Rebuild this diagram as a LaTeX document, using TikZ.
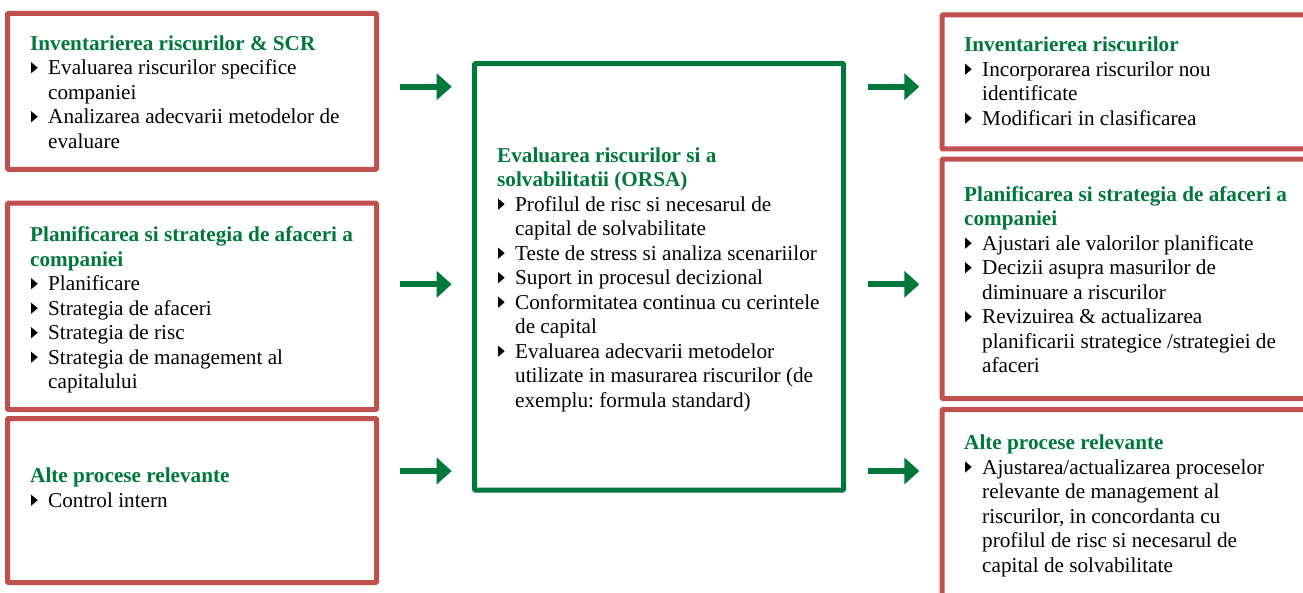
\documentclass[tikz,border=0pt]{standalone}
\usepackage{fontspec}
\setmainfont{Liberation Serif}
\usetikzlibrary{arrows.meta}
\definecolor{boxRed}{HTML}{C0504D}
\definecolor{orsaGreen}{HTML}{00783C}
\frenchspacing
\newcommand{\tri}{\tikz[baseline=-1.5pt]\fill (0pt,0pt) -- (0pt,11pt) -- (6.5pt,5.5pt) -- cycle;}
\newcommand{\itm}{\makebox[18pt][l]{\hspace{1pt}\tri}}
\newcommand{\cont}{\hspace*{18pt}}
\newcommand{\ttl}[1]{\textcolor{orsaGreen}{\bfseries #1}}

\begin{document}
\begin{tikzpicture}[x=1pt,y=-1pt,
    riskbox/.style={draw=boxRed, line width=5pt, rounded corners=1pt, inner sep=0pt, minimum width=369pt},
    orsabox/.style={draw=orsaGreen, line width=5pt, rounded corners=1pt, inner sep=0pt},
    txt/.style={anchor=north west, inner sep=0pt, align=left, font=\fontsize{21.2}{24.5}\selectfont},
    flow/.style={draw=orsaGreen, line width=6pt, -{Triangle[length=15pt,width=26pt]}}]
    \useasboundingbox (0,0) rectangle (1303,593);
    % boxes
    \node[riskbox, minimum height=156pt] (L1) at (192,91.4) {};
    \node[riskbox, minimum height=206.5pt] (L2) at (192,306.3) {};
    \node[riskbox, minimum height=164pt] (L3) at (192,500.5) {};
    \node[orsabox, minimum width=369pt, minimum height=426.5pt] (M) at (659,276.8) {};
    \node[riskbox, minimum height=134pt] (R1) at (1126.5,82) {};
    \node[riskbox, minimum height=239.3pt] (R2) at (1126.5,278.9) {};
    \node[riskbox, minimum height=190.5pt] (R3) at (1126.5,504.8) {};
    % texts
    \node[txt] (L1txt) at (30,32.85) {\strut\ttl{Inventarierea riscurilor \& SCR}\\
        \itm Evaluarea riscurilor specifice\\ \cont companiei\\
        \itm Analizarea adecvarii metodelor de\\ \cont evaluare};
    \node[txt] (L2txt) at (30,224.35) {\strut\ttl{Planificarea si strategia de afaceri a}\\ \ttl{companiei}\\
        \itm Planificare\\ \itm Strategia de afaceri\\ \itm Strategia de risc\\
        \itm Strategia de management al\\ \cont capitalului};
    \node[txt] (L3txt) at (30,465.35) {\strut\ttl{Alte procese relevante}\\ \itm Control intern};
    \node[txt] (Mtxt) at (497,144.85) {\strut\ttl{Evaluarea riscurilor si a}\\ \ttl{solvabilitatii (ORSA)}\\
        \itm Profilul de risc si necesarul de\\ \cont capital de solvabilitate\\
        \itm Teste de stress si analiza scenariilor\\
        \itm Suport in procesul decizional\\
        \itm Conformitatea continua cu cerintele\\ \cont de capital\\
        \itm Evaluarea adecvarii metodelor\\ \cont utilizate in masurarea riscurilor (de\\ \cont exemplu: formula standard)};
    \node[txt] (R1txt) at (964,34.35) {\strut\ttl{Inventarierea riscurilor}\\
        \itm Incorporarea riscurilor nou\\ \cont identificate\\
        \itm Modificari in clasificarea};
    \node[txt] (R2txt) at (964,183.85) {\strut\ttl{Planificarea si strategia de afaceri a}\\ \ttl{companiei}\\
        \itm Ajustari ale valorilor planificate\\
        \itm Decizii asupra masurilor de\\ \cont diminuare a riscurilor\\
        \itm Revizuirea \& actualizarea\\ \cont planificarii strategice /strategiei de\\ \cont afaceri};
    \node[txt] (R3txt) at (964,432.15) {\strut\ttl{Alte procese relevante}\\
        \itm Ajustarea/actualizarea proceselor\\ \cont relevante de management al\\
        \cont riscurilor, in concordanta cu\\ \cont profilul de risc si necesarul de\\
        \cont capital de solvabilitate};
    % arrows
    \coordinate (in1) at (400,86.7);   \coordinate (in1e) at (451.7,86.7);
    \coordinate (in2) at (400,284.3);  \coordinate (in2e) at (451.7,284.3);
    \coordinate (in3) at (400,471);    \coordinate (in3e) at (451.7,471);
    \coordinate (out1) at (867.7,86.7);  \coordinate (out1e) at (919.3,86.7);
    \coordinate (out2) at (867.7,284.3); \coordinate (out2e) at (919.3,284.3);
    \coordinate (out3) at (867.7,471);   \coordinate (out3e) at (919.3,471);
    \draw[flow] (in1) -- (in1e);
    \draw[flow] (in2) -- (in2e);
    \draw[flow] (in3) -- (in3e);
    \draw[flow] (out1) -- (out1e);
    \draw[flow] (out2) -- (out2e);
    \draw[flow] (out3) -- (out3e);
\end{tikzpicture}
\end{document}
